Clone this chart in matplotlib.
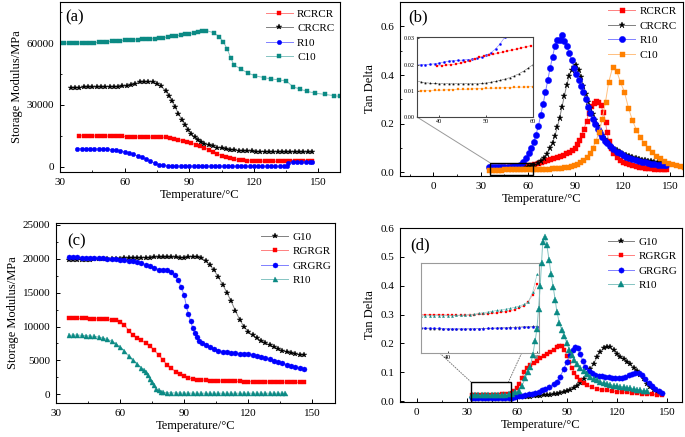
import numpy as np
import matplotlib
matplotlib.use("Agg")
import matplotlib.pyplot as plt
from matplotlib.colors import to_rgb
from matplotlib.patches import Rectangle, ConnectionPatch
from matplotlib.ticker import MultipleLocator, FormatStrFormatter

plt.rcParams['font.family'] = ['Liberation Serif', 'DejaVu Serif']

# ---------------- (a) storage modulus, carbon / resin hybrids ----------------
a_c10_t = np.r_[np.arange(30, 99, 2),
                [101.5, 103.8, 105.8, 107.7, 109.2, 110.7, 113.8, 117.2, 120.7, 124.6,
                 128, 131.5, 135.1, 138.2, 141.6, 144.7, 148.5, 153.1, 157, 160.1]]
a_c10 = [60000, 60000, 60000, 60000, 60050, 60100, 60150, 60200, 60300, 60400,
         60550, 60700, 60850, 61000, 61150, 61300, 61450, 61600, 61750, 61850,
         61950, 62050, 62250, 62450, 62700, 63000, 63300, 63600, 63900, 64250,
         64600, 65000, 65400, 65800, 66100,
         65000, 63200, 60700, 57000, 53000, 49500, 47500, 45500, 44100, 43300,
         42600, 42200, 41600, 38800, 37600, 36600, 35700, 35100, 34500, 34100]

a_crc_t = np.r_[np.arange(35, 80, 2), np.arange(80.5, 97.5, 1.5), np.arange(99, 148, 2)]
a_crc = [38300, 38400, 38450, 38500, 38550, 38600, 38650, 38700, 38750, 38800,
         38850, 38900, 39000, 39200, 39700, 40400, 40900, 41200, 41300, 41000,
         40300, 39000, 36900,
         34500, 31800, 28800, 25800, 22900, 20200, 17900, 15900, 14200, 12900,
         11900, 11100,
         10400, 9800, 9300, 8900, 8550, 8250, 8000, 7800, 7650, 7500,
         7400, 7330, 7270, 7220, 7180, 7150, 7120, 7100, 7080, 7060,
         7040, 7020, 7000, 6980, 6970]

a_rcr_t = np.arange(39, 148, 2)
a_rcr = [15000, 14980, 14960, 14940, 14920, 14900, 14870, 14840, 14800, 14760,
         14700, 14620, 14550, 14480, 14400, 14350, 14350, 14400, 14400, 14350,
         14200, 13900, 13500, 13100, 12600, 12000, 11400, 10700, 10000, 9200,
         8300, 7300, 6300, 5400, 4700, 4100, 3650, 3300, 3050, 2900,
         2800, 2700, 2650, 2620, 2600, 2580, 2570, 2560, 2550, 2550,
         2540, 2540, 2530, 2530, 2520]

a_r10_t = np.r_[np.arange(38, 136, 2), [135.5, 136, 138, 140, 142, 144, 146, 147]]
a_r10 = [8700, 8700, 8680, 8650, 8620, 8580, 8530, 8450, 8300, 8050,
         7700, 7200, 6600, 5950, 5300, 4600, 3700, 2700, 1700, 1000,
         600, 400, 300, 250, 220, 200, 190, 180, 170, 160,
         160, 150, 150, 150, 150, 150, 150, 150, 150, 150,
         150, 150, 150, 150, 150, 150, 150, 150, 150,
         150, 2000, 2100, 2150, 2200, 2250, 2300, 2350]

# ---------------- (b) tan delta, carbon / resin hybrids ----------------
b_rcr_t = np.r_[np.arange(40, 89, 2), np.arange(89.5, 109.5, 1.5), [110, 111, 112.5, 114],
                np.arange(116, 147, 2), [147]]
b_rcr = [0.019, 0.020, 0.0205, 0.0215, 0.023, 0.024, 0.025, 0.026, 0.027, 0.028,
         0.029, 0.032, 0.036, 0.040, 0.044, 0.048, 0.052, 0.056, 0.060, 0.064,
         0.068, 0.073, 0.078, 0.084, 0.092,
         0.102, 0.115, 0.132, 0.153, 0.18, 0.21, 0.245, 0.272, 0.287, 0.293,
         0.291, 0.276, 0.25, 0.205,
         0.165, 0.13, 0.1, 0.08,
         0.064, 0.052, 0.044, 0.038, 0.033, 0.029, 0.026, 0.023, 0.021, 0.019,
         0.017, 0.016, 0.015, 0.014, 0.013, 0.013,
         0.012]

b_crc_t = np.r_[np.arange(38, 73, 2), np.arange(74, 110.5, 1.5), np.arange(112, 147, 2), [147]]
b_crc = [0.0145, 0.014, 0.0138, 0.0138, 0.0138, 0.0138, 0.014, 0.0143, 0.015, 0.016,
         0.018, 0.02, 0.024, 0.03, 0.037, 0.046, 0.058, 0.076,
         0.098, 0.12, 0.15, 0.185, 0.225, 0.27, 0.315, 0.36, 0.395, 0.42,
         0.435, 0.44, 0.42, 0.39, 0.355, 0.32, 0.29, 0.265, 0.24, 0.215,
         0.19, 0.17, 0.152, 0.137, 0.125,
         0.11, 0.098, 0.09, 0.083, 0.077, 0.072, 0.067, 0.063, 0.059, 0.055,
         0.052, 0.049, 0.047, 0.045, 0.043, 0.041, 0.04, 0.039,
         0.038]

b_r10_t = np.r_[np.arange(35, 56, 2), [57, 59], np.arange(60.5, 110.5, 1.5),
                np.arange(112, 147, 2), [147]]
b_r10 = [0.020, 0.020, 0.020, 0.0205, 0.021, 0.022, 0.0225, 0.0235, 0.025, 0.027, 0.031,
         0.042, 0.06,
         0.08, 0.1, 0.125, 0.155, 0.19, 0.235, 0.28, 0.33, 0.38, 0.43,
         0.475, 0.52, 0.545, 0.545, 0.565, 0.54, 0.52, 0.49,
         0.46, 0.43, 0.405, 0.38, 0.355, 0.33, 0.3, 0.27, 0.245, 0.22,
         0.2, 0.18, 0.16, 0.145, 0.13, 0.12,
         0.107, 0.095, 0.085, 0.078, 0.071, 0.065, 0.06, 0.055, 0.051, 0.047,
         0.044, 0.041, 0.038, 0.036, 0.034, 0.032, 0.031, 0.03,
         0.03]

b_c10_t = np.r_[np.arange(35, 112, 2), np.arange(113.5, 159, 2.5)]
b_c10 = [0.0105, 0.011, 0.0112, 0.0114, 0.0116, 0.0118, 0.012, 0.0122, 0.0124, 0.0126,
         0.0128, 0.013, 0.0132, 0.0135, 0.0138, 0.014, 0.0143, 0.0146, 0.015, 0.0154,
         0.016, 0.0167, 0.0175, 0.0185, 0.02, 0.022, 0.025, 0.029, 0.034, 0.041,
         0.05, 0.062, 0.078, 0.1, 0.13, 0.165, 0.22, 0.29, 0.37,
         0.432, 0.418, 0.37, 0.33, 0.265, 0.215, 0.175, 0.145, 0.12, 0.1,
         0.083, 0.068, 0.057, 0.048, 0.04, 0.034, 0.029, 0.025, 0.022]

# inset of (b), 35-60 degC
ib_t = np.arange(35, 61, 1)
ib_r10 = [0.0200, 0.0200, 0.0200, 0.0201, 0.0203, 0.0206, 0.021, 0.0213, 0.0215, 0.0216,
          0.0217, 0.0219, 0.0221, 0.0224, 0.0228, 0.0235, 0.0245, 0.026, 0.028, 0.0305]
ib_rcr_t = np.arange(39.5, 60, 1)
ib_rcr = [0.0195, 0.0196, 0.0198, 0.02, 0.0202, 0.0205, 0.0209, 0.0215, 0.0222, 0.0228,
          0.0232, 0.0235, 0.0239, 0.0243, 0.0247, 0.0251, 0.0255, 0.0259, 0.0263, 0.0268,
          0.0272]
ib_crc = [0.0138, 0.0134, 0.0131, 0.0129, 0.0128, 0.0127, 0.0127, 0.0127, 0.0127, 0.0127,
          0.0127, 0.0127, 0.0127, 0.0127, 0.0128, 0.013, 0.0133, 0.0136, 0.014, 0.0145,
          0.015, 0.0157, 0.0165, 0.0175, 0.0187, 0.02]
ib_c10 = [0.0099, 0.0100, 0.0100, 0.0101, 0.0102, 0.0102, 0.0103, 0.0104, 0.0104, 0.0105,
          0.0106, 0.0106, 0.0107, 0.0108, 0.0108, 0.0109, 0.0110, 0.0110, 0.0111, 0.0112,
          0.0112, 0.0113, 0.0114, 0.0114, 0.0115, 0.0116]

# ---------------- (c) storage modulus, glass / resin hybrids ----------------
c_g10_t = np.arange(36, 147, 2)
c_g10 = [19800, 19820, 19840, 19860, 19880, 19900, 19920, 19940, 19960, 19980,
         20000, 20020, 20040, 20060, 20080, 20100, 20120, 20140, 20160, 20180,
         20200, 20200, 20200, 20200, 20200, 20200, 20180, 20160, 20220, 20300,
         20300, 20150, 19750, 19100, 18300, 17300, 16200, 15000, 13700, 12300,
         11000, 9950, 9250, 8750, 8300, 7900, 7550, 7250, 6950, 6700,
         6450, 6250, 6100, 5950, 5850, 5750]

c_rgr_t = np.arange(36, 147, 2)
c_rgr = [11200, 11200, 11200, 11200, 11190, 11180, 11160, 11140, 11100, 11050,
         10980, 10950, 10700, 10250, 9400, 8750, 8250, 7950, 7550, 7100,
         6500, 5800, 5100, 4300, 3800, 3350, 2950, 2650, 2400, 2250,
         2150, 2100, 2050, 2000, 1980, 1960, 1940, 1920, 1900, 1890,
         1880, 1870, 1860, 1850, 1840, 1830, 1820, 1810, 1800, 1790,
         1780, 1770, 1760, 1755, 1750, 1750]

c_grg_t = np.r_[np.arange(36, 85, 2), [85.5, 87, 88.5, 90, 91, 92, 93, 94, 95, 96, 97, 98.5, 100],
                np.arange(102, 147, 2)]
c_grg = [20200, 20200, 20200, 20180, 20160, 20140, 20120, 20100, 20060, 20020,
         19980, 19920, 19860, 19800, 19720, 19620, 19500, 19350, 19150, 18900,
         18650, 18400, 18300, 18300, 18100,
         17600, 16900, 15900, 14600, 13000, 11800, 10800, 9800, 9000, 8400, 7900, 7500, 7200,
         6900, 6650, 6450, 6300, 6200, 6100, 6050, 6000, 5950, 5900,
         5800, 5700, 5550, 5350, 5150, 4950, 4750, 4550, 4350, 4150,
         4000, 3850, 3750]

c_r10_t = np.r_[np.arange(36, 71, 2), np.arange(71, 80, 1), np.arange(80, 137, 2), [137]]
c_r10 = [8700, 8750, 8750, 8700, 8650, 8600, 8550, 8450, 8300, 8100,
         7850, 7450, 6950, 6400, 5600, 5000, 4450, 3900,
         3600, 3350, 2900, 2300, 1800, 1300, 800, 550, 350,
         280, 230, 200, 190, 180, 170, 160, 160, 150, 150,
         150, 150, 150, 150, 150, 150, 150, 150, 150, 150,
         150, 150, 150, 150, 150, 150, 150, 150, 150,
         150]

# ---------------- (d) tan delta, glass / resin hybrids ----------------
d_g10_t = np.r_[np.arange(36, 147, 2), [147]]
d_g10 = [0.011, 0.011, 0.011, 0.0112, 0.0115, 0.0118, 0.012, 0.0122, 0.0124, 0.0126,
         0.0128, 0.013, 0.0132,
         0.0135, 0.014, 0.015, 0.016, 0.017, 0.018, 0.019, 0.02, 0.021, 0.022,
         0.024, 0.026, 0.029, 0.032, 0.035, 0.04, 0.046, 0.053, 0.062,
         0.076, 0.093, 0.11, 0.13, 0.152, 0.171, 0.184, 0.189, 0.186, 0.176,
         0.163, 0.154, 0.146, 0.137, 0.127, 0.116, 0.104, 0.091, 0.076, 0.061,
         0.048, 0.038, 0.031, 0.026,
         0.025]

d_rgr_t = np.r_[np.arange(33, 58, 2), np.arange(58.5, 65, 1.5), np.arange(66, 85, 2),
                [85.5, 87, 88.5, 90, 91.5, 93, 94.5, 96],
                [98, 100, 102, 105, 108, 111, 114, 117, 120, 123, 126, 129, 132, 135, 138, 141, 144, 147]]
d_rgr = [0.021, 0.021, 0.021, 0.021, 0.021, 0.021, 0.021, 0.021, 0.022, 0.023,
         0.024, 0.026, 0.028,
         0.035, 0.045, 0.06, 0.08, 0.1,
         0.115, 0.125, 0.133, 0.14, 0.148, 0.155, 0.163, 0.17, 0.178, 0.186,
         0.192, 0.19, 0.178, 0.158, 0.135, 0.115, 0.098, 0.084,
         0.072, 0.062, 0.055, 0.048, 0.043, 0.04, 0.037, 0.035, 0.033, 0.031,
         0.03, 0.028, 0.027, 0.025, 0.024, 0.023, 0.022, 0.021]

d_grg_t = np.r_[np.arange(33, 58, 2), np.arange(59, 80, 2),
                [82, 84, 86, 88, 90, 92, 93.5, 95, 96.5, 98, 99.5, 101],
                np.arange(103, 148, 2)]
d_grg = [0.0115, 0.0112, 0.011, 0.011, 0.011, 0.011, 0.011, 0.011, 0.011, 0.0112,
         0.0115, 0.012, 0.0125,
         0.015, 0.017, 0.019, 0.021, 0.023, 0.026, 0.029, 0.033, 0.037, 0.042, 0.048,
         0.058, 0.068, 0.085, 0.11, 0.135, 0.16, 0.178, 0.188, 0.184, 0.165, 0.14, 0.118,
         0.104, 0.096, 0.091, 0.088, 0.086, 0.085, 0.083, 0.081, 0.079, 0.079,
         0.081, 0.084, 0.089, 0.094, 0.097, 0.096, 0.09, 0.078, 0.064, 0.052,
         0.042, 0.034, 0.027]

d_r10_t = np.r_[np.arange(33, 58, 2),
                [59, 61, 63, 65, 66.5, 68, 69.5, 71, 72, 73, 74, 74.8, 75.5, 76.8, 78,
                 79.3, 80.5, 81.8, 83, 84, 85.5, 87, 88.5, 90, 91.5, 93, 94.5, 96],
                np.arange(98, 139, 2)]
d_r10 = [0.02, 0.02, 0.02, 0.02, 0.02, 0.0202, 0.0205, 0.021, 0.0212, 0.0215,
         0.022, 0.0235, 0.026,
         0.03, 0.035, 0.052, 0.08, 0.1, 0.12, 0.16, 0.21, 0.25, 0.32,
         0.4, 0.48, 0.55, 0.57, 0.54, 0.49, 0.44, 0.395, 0.35, 0.31,
         0.27, 0.245, 0.225, 0.2, 0.178, 0.16, 0.142, 0.128,
         0.115, 0.103, 0.093, 0.085, 0.078, 0.072, 0.067, 0.063, 0.06, 0.057,
         0.054, 0.052, 0.05, 0.048, 0.046, 0.044, 0.042, 0.04, 0.038, 0.036,
         0.034]

# inset of (d), 34-60 degC
id_t = np.arange(34, 61, 1)
id_rgr = [0.0215, 0.0215, 0.0215, 0.0215, 0.0215, 0.0214, 0.0213, 0.0212, 0.0212, 0.0212,
          0.0212, 0.0213, 0.0214, 0.0216, 0.0218, 0.022, 0.0222, 0.0225, 0.0228, 0.0232,
          0.0237, 0.0243, 0.0252, 0.0265, 0.0285, 0.0325, 0.0385]
id_r10 = [0.0208, 0.0208, 0.0209, 0.021, 0.021, 0.021, 0.021, 0.021, 0.0211, 0.0212,
          0.0213, 0.0215, 0.0218, 0.0222, 0.0226, 0.023, 0.0234, 0.0238, 0.0242, 0.0246,
          0.025, 0.0256, 0.0263, 0.0272, 0.0285, 0.034, 0.044]
id_grg = [0.0142, 0.0141, 0.014, 0.0139, 0.0138, 0.0137, 0.0137, 0.0136, 0.0136, 0.0136,
          0.0136, 0.0136, 0.0136, 0.0137, 0.0137, 0.0138, 0.0138, 0.0139, 0.014, 0.014,
          0.0141, 0.0142, 0.0143, 0.0144, 0.0145, 0.0146, 0.0147]
id_g10 = [0.0139, 0.0138, 0.0137, 0.0137, 0.0136, 0.0136, 0.0135, 0.0135, 0.0135, 0.0135,
          0.0135, 0.0136, 0.0136, 0.0137, 0.0138, 0.0139, 0.014, 0.0141, 0.0142, 0.0143,
          0.0144, 0.0145, 0.0146, 0.0148, 0.0149, 0.015, 0.0151]

RED, BLACK, BLUE, TEAL, ORANGE = '#ff0000', '#000000', '#0000ff', '#0b8a84', '#ff8000'


def light(c, f=0.5):
    r, g, b = to_rgb(c)
    return (r + (1 - r) * f, g + (1 - g) * f, b + (1 - b) * f)


def curve(ax, t, v, color, marker, ms, label=None, lw=0.7):
    ax.plot(t, v, color=light(color), lw=lw, marker=marker, ms=ms,
            mfc=color, mec=color, mew=0.3, label=label)


def style(ax, xmaj, ymaj, xmin=None, ymin=None):
    ax.xaxis.set_major_locator(MultipleLocator(xmaj))
    ax.yaxis.set_major_locator(MultipleLocator(ymaj))
    if xmin:
        ax.xaxis.set_minor_locator(MultipleLocator(xmin))
    if ymin:
        ax.yaxis.set_minor_locator(MultipleLocator(ymin))
    ax.tick_params(which='both', direction='in', labelsize=8, pad=4)
    ax.tick_params(which='major', length=3, width=0.7)
    ax.tick_params(which='minor', length=1.6, width=0.6)
    for s in ax.spines.values():
        s.set_linewidth(0.8)


def legend(ax, x, y):
    ax.legend(loc='upper left', bbox_to_anchor=(x, y), frameon=False, fontsize=8,
              handlelength=2.4, handletextpad=0.4, labelspacing=0.42, borderaxespad=0)


fig = plt.figure(figsize=(6.85, 4.37), dpi=100)
ax_a = fig.add_axes([0.0876, 0.6064, 0.4088, 0.389])
ax_b = fig.add_axes([0.584, 0.5973, 0.413, 0.398])
ax_c = fig.add_axes([0.0818, 0.0778, 0.407, 0.412])
ax_d = fig.add_axes([0.584, 0.0801, 0.4117, 0.398])

# (a)
curve(ax_a, a_rcr_t, a_rcr, RED, 's', 3, 'RCRCR')
curve(ax_a, a_crc_t, a_crc, BLACK, '*', 4, 'CRCRC')
curve(ax_a, a_r10_t, a_r10, BLUE, 'o', 3.2, 'R10')
curve(ax_a, a_c10_t, a_c10, TEAL, 's', 3, 'C10')
ax_a.set_xlim(30, 160)
ax_a.set_ylim(-2600, 80000)
style(ax_a, 30, 30000, 15, 15000)
ax_a.set_xlabel('Temperature/°C', fontsize=9, labelpad=2)
ax_a.set_ylabel('Storage Modulus/MPa', fontsize=9, labelpad=3)
ax_a.text(0.02, 0.91, '(a)', transform=ax_a.transAxes, fontsize=12, va='center')
legend(ax_a, 0.72, 0.985)

# (b)
curve(ax_b, b_rcr_t, b_rcr, RED, 's', 3.6, 'RCRCR')
curve(ax_b, b_crc_t, b_crc, BLACK, '*', 4.5, 'CRCRC')
curve(ax_b, b_r10_t, b_r10, BLUE, 'o', 4.5, 'R10')
curve(ax_b, b_c10_t, b_c10, ORANGE, 's', 3.6, 'C10')
ax_b.set_xlim(-21, 158)
ax_b.set_ylim(-0.015, 0.70)
style(ax_b, 30, 0.2, 15, 0.1)
ax_b.yaxis.set_major_formatter(FormatStrFormatter('%.1f'))
ax_b.set_xlabel('Temperature/°C', fontsize=9, labelpad=2)
ax_b.set_ylabel('Tan Delta', fontsize=9, labelpad=3)
ax_b.text(0.03, 0.91, '(b)', transform=ax_b.transAxes, fontsize=12, va='center')
legend(ax_b, 0.72, 1.0)

box_b = Rectangle((36, -0.013), 27, 0.052, fill=False, ec='black', lw=1.0, zorder=5)
ax_b.add_patch(box_b)
ins_b = ax_b.inset_axes([0.06, 0.339, 0.41, 0.46])
for t, v, c, m in [(ib_t[:len(ib_r10)], ib_r10, BLUE, 'o'), (ib_rcr_t, ib_rcr, RED, 's'),
                   (ib_t, ib_crc, BLACK, '*'), (ib_t, ib_c10, ORANGE, 's')]:
    ins_b.plot(t, v, color=light(c), lw=0.4, marker=m, ms=1.6, mfc=c, mec=c, mew=0.2)
ins_b.set_xlim(35.2, 60)
ins_b.set_ylim(0, 0.0305)
ins_b.set_xticks([40, 50, 60])
ins_b.set_yticks([0, 0.01, 0.02, 0.03])
ins_b.yaxis.set_major_formatter(FormatStrFormatter('%.2f'))
ins_b.tick_params(direction='in', labelsize=4.5, length=1.5, pad=1.5, width=0.5)
for s in ins_b.spines.values():
    s.set_color('#444444')
    s.set_linewidth(0.8)
ax_b.add_artist(ConnectionPatch(xyA=(0, 0), coordsA=ins_b.transAxes,
                                xyB=(36, 0.039), coordsB=ax_b.transData,
                                color='#999999', lw=0.7))

# (c)
curve(ax_c, c_g10_t, c_g10, BLACK, '*', 4, 'G10')
curve(ax_c, c_rgr_t, c_rgr, RED, 's', 3.2, 'RGRGR')
curve(ax_c, c_grg_t, c_grg, BLUE, 'o', 3.6, 'GRGRG')
curve(ax_c, c_r10_t, c_r10, TEAL, '^', 3.6, 'R10')
ax_c.set_xlim(30, 160.5)
ax_c.set_ylim(-1300, 25300)
style(ax_c, 30, 5000, 15, 2500)
ax_c.set_xlabel('Temperature/°C', fontsize=9, labelpad=2)
ax_c.set_ylabel('Storage Modulus/MPa', fontsize=9, labelpad=3)
ax_c.text(0.04, 0.90, '(c)', transform=ax_c.transAxes, fontsize=12, va='center')
legend(ax_c, 0.72, 0.975)

# (d)
curve(ax_d, d_g10_t, d_g10, BLACK, '*', 4, 'G10')
curve(ax_d, d_rgr_t, d_rgr, RED, 's', 3.4, 'RGRGR')
curve(ax_d, d_grg_t, d_grg, BLUE, 'o', 3.8, 'GRGRG')
curve(ax_d, d_r10_t, d_r10, TEAL, '^', 3.8, 'R10')
ax_d.set_xlim(-10, 159)
ax_d.set_ylim(-0.003, 0.6)
style(ax_d, 30, 0.1, 15)
ax_d.yaxis.set_major_formatter(FormatStrFormatter('%.1f'))
ax_d.set_xlabel('Temperature/°C', fontsize=9, labelpad=2)
ax_d.set_ylabel('Tan Delta', fontsize=9, labelpad=3)
ax_d.text(0.035, 0.90, '(d)', transform=ax_d.transAxes, fontsize=12, va='center')
legend(ax_d, 0.72, 0.975)

box_d = Rectangle((32.4, -0.003), 23.8, 0.07, fill=False, ec='black', lw=1.0, zorder=5)
ax_d.add_patch(box_d)
ins_d = ax_d.inset_axes([0.073, 0.28, 0.421, 0.517], zorder=1.5)
for v, c, m in [(id_g10, BLACK, '*'), (id_grg, BLUE, 'o'), (id_rgr, RED, 's'), (id_r10, TEAL, '^')]:
    ins_d.plot(id_t, v, color=light(c), lw=0.4, marker=m, ms=1.6, mfc=c, mec=c, mew=0.2)
ins_d.set_xlim(34, 60.5)
ins_d.set_ylim(0, 0.05)
ins_d.set_xticks([40, 60])
ins_d.set_yticks([])
ins_d.tick_params(direction='in', labelsize=5, length=1.5, pad=1.5, width=0.5)
for s in ins_d.spines.values():
    s.set_color('#9a9a9a')
    s.set_linewidth(0.8)
for xa, xb in [((0.163, 0), (32.4, 0.067)), ((0.85, 0), (55, 0.067))]:
    ax_d.add_artist(ConnectionPatch(xyA=xa, coordsA=ins_d.transAxes,
                                    xyB=xb, coordsB=ax_d.transData,
                                    color='#777777', lw=0.7, ls=':'))

fig.savefig('out.png', dpi=100)
